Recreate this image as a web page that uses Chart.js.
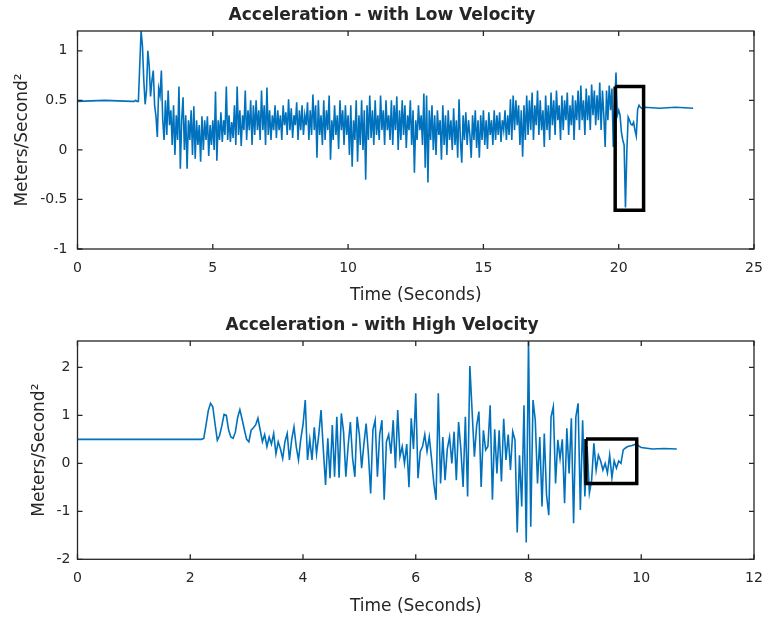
<!DOCTYPE html>
<html>
<head>
<meta charset="utf-8">
<script src="https://cdn.jsdelivr.net/npm/chart.js@4.4.1/dist/chart.umd.min.js"></script>
<style>
  html, body { margin: 0; padding: 0; background: #fff; }
  .plot { position: absolute; left: 0; width: 764px; }
  canvas { display: block; }
</style>
</head>
<body>
<div class="plot" style="top:0;height:311px"><canvas id="lowChart" width="764" height="311"></canvas></div>
<div class="plot" style="top:311px;height:310px"><canvas id="highChart" width="764" height="310"></canvas></div>
<script>
// ---- low velocity run (samples every 0.05 s from 2.0 s) ----
const lowHeadTime = [0, 1]
const lowHeadValue = [0.49, 0.5]
const lowStart = 2.0
const lowStep = 0.05
const lowAccel = [
	0.49, 0.49, 0.49, 0.5, 0.49, 0.49, 0.85, 1.2, 1.05, 0.7, 0.46, 0.6, 1.0, 0.85, 0.54, 0.7, 0.8, 0.45, 0.34, 0.13,
	0.62, 0.55, 0.8, 0.3, 0.1, 0.5, 0.15, 0.6, 0.25, 0.4, 0.05, 0.45, -0.05, 0.35, 0.1, 0.64, -0.19, 0.3, 0.53, 0.0,
	0.35, -0.19, 0.3, 0.1, 0.4, -0.05, 0.44, -0.09, 0.3, 0.05, 0.25, -0.12, 0.34, 0.0, 0.3, 0.1, 0.34, -0.06, 0.25, 0.05,
	0.3, 0.0, 0.59, -0.11, 0.3, 0.1, 0.38, 0.08, 0.3, 0.15, 0.64, 0.1, 0.35, 0.08, 0.28, 0.12, 0.45, 0.05, 0.64, 0.15,
	0.4, 0.04, 0.35, 0.2, 0.6, 0.1, 0.4, 0.2, 0.5, 0.05, 0.45, 0.15, 0.5, 0.2, 0.4, 0.1, 0.6, 0.2, 0.45, 0.05,
	0.63, 0.15, 0.4, 0.1, 0.35, 0.2, 0.45, 0.12, 0.4, 0.2, 0.35, 0.1, 0.45, 0.25, 0.38, 0.15, 0.51, 0.2, 0.42, 0.12,
	0.35, 0.25, 0.48, 0.1, 0.4, 0.2, 0.45, 0.15, 0.35, 0.25, 0.48, 0.1, 0.4, 0.15, 0.56, 0.2, 0.45, -0.08, 0.5, 0.15,
	0.35, 0.05, 0.5, 0.1, 0.4, 0.2, 0.55, -0.1, 0.3, 0.1, 0.45, 0.15, 0.35, 0.01, 0.5, 0.2, 0.4, 0.05, 0.45, 0.15,
	0.35, -0.05, 0.45, -0.17, 0.3, 0.1, 0.5, -0.12, 0.35, 0.05, 0.5, 0.0, 0.4, -0.3, 0.45, 0.1, 0.55, 0.12, 0.4, 0.05,
	0.5, 0.15, 0.35, 0.1, 0.55, 0.2, 0.4, 0.05, 0.5, 0.2, 0.35, 0.1, 0.5, 0.05, 0.45, 0.2, 0.54, 0.0, 0.4, 0.1,
	0.5, 0.15, 0.45, 0.02, 0.35, 0.2, 0.5, 0.05, 0.4, -0.23, 0.3, 0.1, 0.45, 0.2, 0.35, 0.05, 0.57, -0.18, 0.55, -0.33,
	0.4, 0.1, 0.45, 0.0, 0.35, -0.05, 0.4, 0.15, 0.3, -0.1, 0.45, 0.05, 0.35, -0.05, 0.4, 0.1, 0.3, 0.0, 0.42, 0.05,
	0.3, -0.08, 0.51, 0.1, -0.13, 0.35, 0.1, 0.38, 0.05, 0.3, 0.15, -0.08, 0.35, 0.1, 0.4, 0.02, 0.3, -0.08, 0.35, 0.1,
	0.4, 0.05, 0.3, 0.01, 0.38, 0.15, 0.3, 0.05, 0.4, 0.1, 0.35, 0.15, 0.38, 0.08, 0.3, 0.2, 0.4, 0.1, 0.35, 0.15,
	0.51, 0.1, 0.55, 0.2, 0.5, 0.25, 0.45, 0.05, 0.4, -0.07, 0.45, 0.1, 0.55, 0.15, 0.5, 0.2, 0.58, 0.1, 0.45, 0.25,
	0.6, 0.15, 0.5, 0.2, 0.4, 0.03, 0.55, 0.2, 0.45, 0.1, 0.58, 0.25, 0.5, 0.15, 0.6, 0.3, 0.45, 0.1, 0.55, 0.2,
	0.5, 0.3, 0.58, 0.15, 0.45, 0.25, 0.55, 0.1, 0.5, 0.3, 0.6, 0.2, 0.65, 0.3, 0.5, 0.15, 0.62, 0.3, 0.55, 0.2,
	0.66, 0.35, 0.6, 0.25, 0.55, 0.3, 0.68, 0.2, 0.6, 0.35, 0.03, 0.6, 0.3, 0.65, 0.4, 0.62, 0.03, 0.45, 0.78, 0.35,
	0.4, 0.35, 0.18, 0.1, 0.05, -0.58, -0.02, 0.33, 0.3, 0.26, 0.25, 0.28, 0.2, 0.14, 0.41, 0.45, 0.43, 0.42, 0.42, 0.43,
]
const lowTailTime = [21.5, 22.1, 22.75]
const lowTailValue = [0.42, 0.43, 0.42]
const lowBoxTime = [19.87, 20.92, 20.92, 19.87, 19.87]
const lowBoxValue = [0.64, 0.64, -0.61, -0.61, 0.64]
const lowTimeTicks = [0, 5, 10, 15, 20, 25]
const lowAccelTicks = [-1, -0.5, 0, 0.5, 1]

// ---- high velocity run (samples every 0.04 s from 2.0 s) ----
const highHeadTime = [0, 1]
const highHeadValue = [0.5, 0.5]
const highStart = 2.0
const highStep = 0.04
const highAccel = [
	0.5, 0.5, 0.5, 0.5, 0.5, 0.5, 0.52, 0.8, 1.1, 1.25, 1.18, 0.82, 0.48, 0.58, 0.78, 1.02, 1.0, 0.7, 0.55, 0.52, 0.65, 0.95, 1.12, 0.92, 0.7,
	0.5, 0.45, 0.69, 0.74, 0.8, 0.94, 0.7, 0.45, 0.6, 0.35, 0.55, 0.4, 0.62, 0.2, 0.45, 0.3, 0.1, 0.45, 0.62, 0.07, 0.5, 0.76, 0.35, 0.07, 0.5,
	0.8, 1.32, 0.07, 0.5, 0.07, 0.75, 0.2, 0.6, 1.11, 0.3, -0.45, 0.52, -0.31, 0.8, -0.28, 0.97, -0.3, 1.04, 0.65, -0.28, 0.35, 0.86, 0.1, -0.28, 0.97,
	0.6, -0.1, 0.4, 0.83, 0.2, -0.63, 0.7, 0.9, -0.28, 0.6, 0.9, -0.76, 0.45, 0.6, 0.2, 0.9, -0.1, 1.11, 0.14, 0.35, 0.0, 0.4, -0.5, 0.94, 0.3,
	1.46, -0.31, 0.25, 0.35, 0.6, 0.25, 0.55, 0.1, -0.41, -0.76, 1.46, -0.42, 0.55, -0.35, 0.3, 0.55, 0.0, 0.66, -0.35, 0.86, 0.3, -0.49, 0.97, -0.69, 2.03,
	1.08, 0.14, 0.78, 1.08, -0.49, 0.69, 0.28, 0.35, 1.21, -0.76, 0.71, -0.21, 0.69, -0.38, 0.93, 0.07, 0.6, -0.14, 0.66, 0.49, -1.44, 0.17, -0.9, 1.21, -1.65,
	2.55, -1.32, 1.32, 0.9, -0.42, 0.55, -0.9, 0.62, -0.66, -1.08, 0.97, 1.18, -0.42, 0.49, 0.1, 0.5, -0.83, 0.73, -0.21, 0.94, -1.25, 0.97, 1.25, -0.97, 0.9,
	-0.69, 0.35, -0.62, -0.35, 0.42, -0.14, 0.17, 0.05, -0.14, 0.0, -0.2, 0.17, -0.3, 0.05, -0.1, 0.05, 0.0, 0.28, 0.32, 0.35, 0.36, 0.37, 0.39, 0.4, 0.36,
]
const highTailTime = [10.0, 10.2, 10.4, 10.63]
const highTailValue = [0.33, 0.3, 0.31, 0.3]
const highBoxTime = [9.02, 9.92, 9.92, 9.02, 9.02]
const highBoxValue = [0.51, 0.51, -0.42, -0.42, 0.51]
const highTimeTicks = [0, 2, 4, 6, 8, 10, 12]
const highAccelTicks = [-2, -1, 0, 1, 2]

const lineColor = '#0072BD'
const inkColor = '#262626'
const fontFamily = "'DejaVu Sans', 'Liberation Sans', sans-serif"

function toPoints(headT, headV, start, step, vals, tailT, tailV) {
	var pts = headT.map(function (t, i) { return { x: t, y: headV[i] } })
	vals.forEach(function (v, i) { pts.push({ x: +(start + i * step).toFixed(3), y: v }) })
	tailT.forEach(function (t, i) { pts.push({ x: t, y: tailV[i] }) })
	return pts
}

function zipPoints(xs, ys) {
	return xs.map(function (x, i) { return { x: x, y: ys[i] } })
}

// MATLAB-like box with inward ticks on all four sides
const axesBox = {
	id: 'axesBox',
	afterDraw(chart) {
		var ctx = chart.ctx
		var a = chart.chartArea
		var x = chart.scales.x
		var y = chart.scales.y
		ctx.save()
		ctx.strokeStyle = inkColor
		ctx.lineWidth = 1.3
		ctx.strokeRect(a.left, a.top, a.right - a.left, a.bottom - a.top)
		ctx.beginPath()
		x.ticks.forEach(function (t) {
			var px = x.getPixelForValue(t.value)
			ctx.moveTo(px, a.bottom); ctx.lineTo(px, a.bottom - 5)
			ctx.moveTo(px, a.top); ctx.lineTo(px, a.top + 5)
		})
		y.ticks.forEach(function (t) {
			var py = y.getPixelForValue(t.value)
			ctx.moveTo(a.left, py); ctx.lineTo(a.left + 5, py)
			ctx.moveTo(a.right, py); ctx.lineTo(a.right - 5, py)
		})
		ctx.stroke()
		ctx.restore()
	},
}

function makeChart(id, cfg) {
	return new Chart(document.getElementById(id), {
		type: 'scatter',
		data: {
			datasets: [
				{
					data: cfg.signal,
					showLine: true,
					borderColor: lineColor,
					borderWidth: 1.6,
					pointRadius: 0,
					order: 2,
				},
				{
					data: cfg.box,
					showLine: true,
					borderColor: '#000000',
					borderWidth: 3.5,
					pointRadius: 0,
					order: 1,
				},
			],
		},
		options: {
			responsive: false,
			animation: false,
			layout: { padding: { left: 0, right: 0, top: 0, bottom: 0 } },
			plugins: {
				legend: { display: false },
				tooltip: { enabled: false },
				title: {
					display: true,
					text: cfg.title,
					color: inkColor,
					font: { family: fontFamily, size: 17, weight: 'bold' },
					padding: cfg.titlePad,
				},
			},
			scales: {
				x: {
					type: 'linear',
					min: cfg.xTicks[0],
					max: cfg.xTicks[cfg.xTicks.length - 1],
					afterBuildTicks: function (s) { s.ticks = cfg.xTicks.map(function (v) { return { value: v } }) },
					afterFit: function (s) {
						s.height = cfg.xAxisHeight
						s.paddingLeft = 0
						s.paddingRight = 10
					},
					grid: { display: false, drawTicks: false },
					border: { display: false },
					ticks: {
						color: inkColor,
						font: { family: fontFamily, size: 14 },
						padding: 11,
						maxRotation: 0,
						autoSkip: false,
						callback: function (v) { return String(v) },
					},
					title: {
						display: true,
						text: 'Time (Seconds)',
						color: inkColor,
						font: { family: fontFamily, size: 17 },
						padding: { top: 0, bottom: cfg.xTitlePad },
					},
				},
				y: {
					min: cfg.yMin,
					max: cfg.yMax,
					afterBuildTicks: function (s) { s.ticks = cfg.yTicks.map(function (v) { return { value: v } }) },
					afterFit: function (s) { s.width = 77.5 },
					grid: { display: false, drawTicks: false },
					border: { display: false },
					ticks: {
						color: inkColor,
						font: { family: fontFamily, size: 14 },
						padding: cfg.yTickPad,
						autoSkip: false,
						callback: function (v) { return String(v) },
					},
					title: {
						display: true,
						text: 'Meters/Second\u00B2',
						color: inkColor,
						font: { family: fontFamily, size: 17 },
						padding: { top: cfg.yTitlePad, bottom: 0 },
					},
				},
			},
		},
		plugins: [axesBox],
	})
}

makeChart('lowChart', {
	title: 'Acceleration - with Low Velocity',
	signal: toPoints(lowHeadTime, lowHeadValue, lowStart, lowStep, lowAccel, lowTailTime, lowTailValue),
	box: zipPoints(lowBoxTime, lowBoxValue),
	xTicks: lowTimeTicks,
	yTicks: lowAccelTicks,
	yMin: -1,
	yMax: 1.2,
	titlePad: { top: 5, bottom: 5.6 },
	xAxisHeight: 62,
	xTitlePad: 5,
	yTickPad: 10,
	yTitlePad: 12,
})

makeChart('highChart', {
	title: 'Acceleration - with High Velocity',
	signal: toPoints(highHeadTime, highHeadValue, highStart, highStep, highAccel, highTailTime, highTailValue),
	box: zipPoints(highBoxTime, highBoxValue),
	xTicks: highTimeTicks,
	yTicks: highAccelTicks,
	yMin: -2,
	yMax: 2.55,
	titlePad: { top: 4, bottom: 5.6 },
	xAxisHeight: 61.7,
	xTitlePad: 4.5,
	yTickPad: 7,
	yTitlePad: 29,
})
</script>
</body>
</html>
